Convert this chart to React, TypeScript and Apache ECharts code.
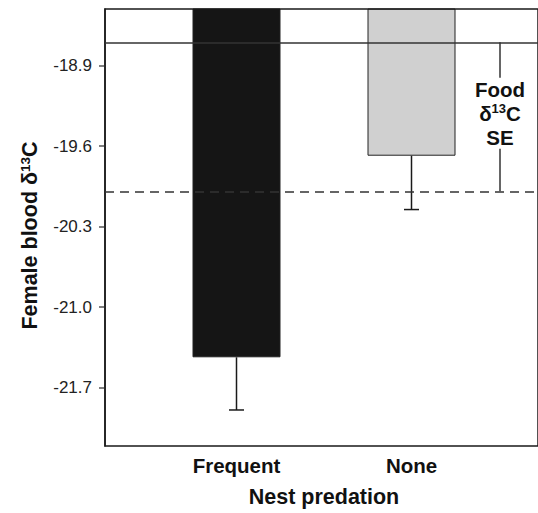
import React, { useEffect, useRef } from "react";
import * as echarts from "echarts";

const categories = ["Frequent", "None"];
const bloodMeans = [-21.45, -19.69];
const bloodSE = [0.46, 0.47];
const barColors = ["#151515", "#d0d0d0"];
const foodMean = -18.7;
const foodSE = 1.3;
const yTicks = [-21.7, -21.0, -20.3, -19.6, -18.9];
const yMin = -22.207;
const yMax = -18.409;

export default function App() {
  const ref = useRef<HTMLDivElement>(null);
  useEffect(() => {
    const chart = echarts.init(ref.current!, null, { renderer: "svg" });
    const font = "'Liberation Sans', Arial, Helvetica, sans-serif";
    const ink = "#1a1a1a";
    const boldText = { fontFamily: font, fontWeight: "bold", fontSize: 20.5, color: "#111" };
    const option: any = {
      animation: false,
      backgroundColor: "#ffffff",
      grid: [
        {
          left: 105, top: 9, width: 460, height: 437, show: true,
          borderColor: ink, borderWidth: 1.5, backgroundColor: "transparent", z: 5,
        },
        { left: 149, top: 9, width: 350, height: 437 },
      ],
      xAxis: [
        { type: "value", gridIndex: 0, min: 0, max: 1, show: false },
        {
          type: "category", gridIndex: 1, data: categories,
          axisLine: { show: false, onZero: false }, axisTick: { show: false },
          axisLabel: { ...boldText, margin: 11 },
          name: "Nest predation", nameLocation: "middle", nameGap: 42,
          nameTextStyle: { ...boldText, fontSize: 21.5 },
        },
      ],
      yAxis: [
        {
          type: "value", gridIndex: 0, min: yMin, max: yMax,
          splitLine: { show: false },
          axisLine: { show: true, onZero: false, lineStyle: { color: ink, width: 1.5 } },
          axisTick: { show: true, customValues: yTicks, length: 6, lineStyle: { color: "#555", width: 1.5 } },
          axisLabel: {
            customValues: yTicks,
            formatter: (v: number) => v.toFixed(1),
            fontSize: 17, color: "#222", margin: 13, fontFamily: font,
          },
          name: "Female blood {a|δ}{s|13}{a|C}",
          nameLocation: "middle", nameGap: 58,
          nameTextStyle: {
            ...boldText,
            fontSize: 21.5,
            lineHeight: 24,
            padding: [0, 16, 0, 0],
            rich: {
              a: { fontFamily: font, fontWeight: "bold", fontSize: 21.5, lineHeight: 24, color: "#111" },
              s: { fontFamily: font, fontWeight: "bold", fontSize: 13.5, lineHeight: 13, verticalAlign: "top", color: "#111" },
            },
          },
        },
        { type: "value", gridIndex: 1, min: yMin, max: yMax, show: false },
      ],
      series: [
        {
          type: "line", xAxisIndex: 0, yAxisIndex: 0,
          data: [[0, foodMean]], symbol: "none", lineStyle: { opacity: 0 },
          silent: true, z: 3,
          markLine: {
            symbol: ["none", "none"], silent: true, label: { show: false },
            lineStyle: { color: "#333", width: 1.5 },
            data: [
              { yAxis: foodMean, lineStyle: { type: "solid", color: "#333", width: 1.5 } },
              { yAxis: foodMean - foodSE, lineStyle: { type: [9, 6], color: "#333", width: 1.5 } },
            ],
          },
        },
        {
          type: "bar", xAxisIndex: 1, yAxisIndex: 1, barWidth: 88, z: 2,
          data: bloodMeans.map((v, i) => ({
            value: v,
            itemStyle: { color: barColors[i], borderColor: "#222", borderWidth: 1 },
          })),
        },
        {
          type: "custom", xAxisIndex: 1, yAxisIndex: 1, z: 4, silent: true,
          encode: { x: 0, y: [1, 2] },
          data: categories.map((c, i) => [i, bloodMeans[i], bloodMeans[i] - bloodSE[i]]),
          renderItem: (params: any, api: any) => {
            const top = api.coord([api.value(0), api.value(1)]);
            const bot = api.coord([api.value(0), api.value(2)]);
            const cap = 7.5;
            return {
              type: "group",
              children: [
                { type: "line", shape: { x1: top[0], y1: top[1], x2: bot[0], y2: bot[1] }, style: { stroke: ink, lineWidth: 1.5 } },
                { type: "line", shape: { x1: bot[0] - cap, y1: bot[1], x2: bot[0] + cap, y2: bot[1] }, style: { stroke: ink, lineWidth: 1.5 } },
              ],
            };
          },
        },
        {
          type: "custom", xAxisIndex: 1, yAxisIndex: 1, z: 4, silent: true,
          encode: { x: 0, y: [1, 2] },
          data: [[1, foodMean, foodMean - foodSE]],
          renderItem: (params: any, api: any) => {
            const cs = params.coordSys;
            const bx = cs.x + cs.width + 1;
            const yTop = api.coord([api.value(0), api.value(1)])[1];
            const yBot = api.coord([api.value(0), api.value(2)])[1];
            const mid = (yTop + yBot) / 2 - 3;
            const half = 36;
            return {
              type: "group",
              children: [
                { type: "line", shape: { x1: bx, y1: yTop, x2: bx, y2: mid - half }, style: { stroke: "#333", lineWidth: 1.5 } },
                { type: "line", shape: { x1: bx, y1: mid + half - 1, x2: bx, y2: yBot }, style: { stroke: "#333", lineWidth: 1.5 } },
                {
                  type: "text", x: bx, y: mid,
                  style: {
                    text: "{a|Food}\n{a|δ}{s|13}{a|C}\n{a|SE}",
                    align: "center", verticalAlign: "middle",
                    fill: "#111", fontFamily: font, fontWeight: "bold", fontSize: 20.5, lineHeight: 24,
                    rich: {
                      a: { fontFamily: font, fontWeight: "bold", fontSize: 20.5, lineHeight: 24, fill: "#111", color: "#111" },
                      s: { fontFamily: font, fontWeight: "bold", fontSize: 13, lineHeight: 13, verticalAlign: "top", fill: "#111", color: "#111" },
                    },
                  },
                },
              ],
            };
          },
        },
      ],
    };
    chart.setOption(option);
    return () => chart.dispose();
  }, []);
  return (
    <div
      ref={ref}
      style={{ position: "fixed", left: 0, top: 0, width: 538, height: 513, background: "#fff" }}
    />
  );
}
